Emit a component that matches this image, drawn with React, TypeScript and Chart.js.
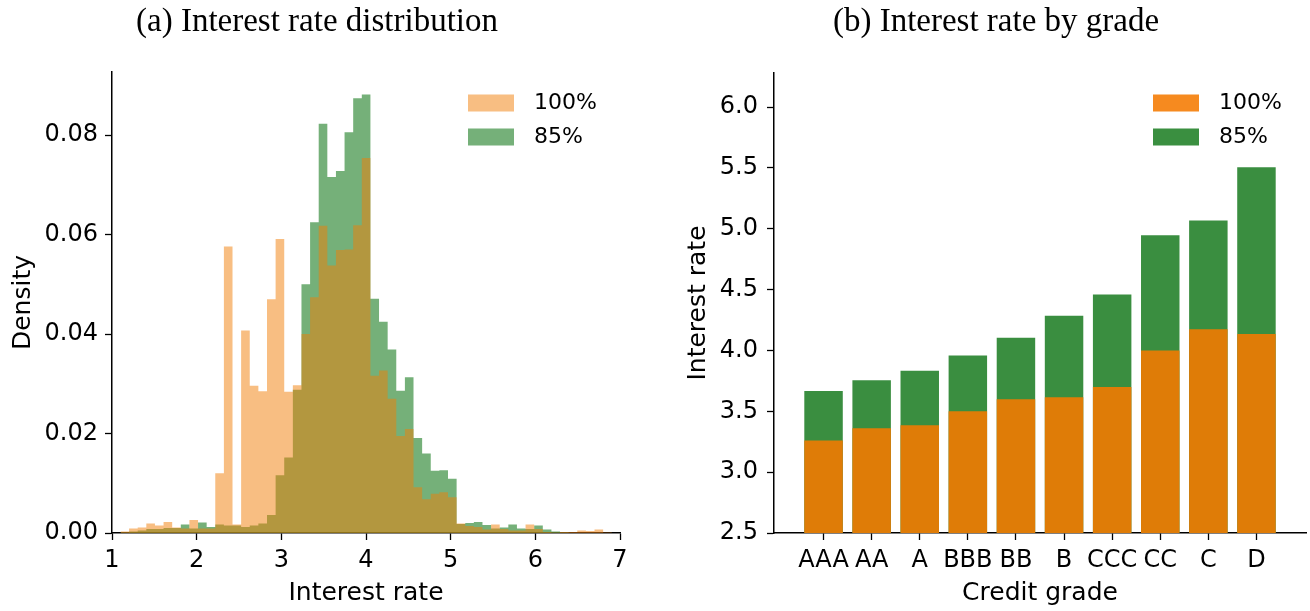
import { useEffect, useRef } from "react";
import { Chart, registerables } from "chart.js";

Chart.register(...registerables);

// ---- (a) histogram: common bins, density per bin ----
const binStart = 1.1;
const binWidth = 0.1018;

const density100 = [
  0.0003, 0.0009, 0.0011, 0.0019, 0.0015, 0.0022, 0.0011, 0.0009, 0.0026, 0.0009,
  0.0009, 0.012, 0.0576, 0.0017, 0.0407, 0.0296, 0.0285, 0.047, 0.0591, 0.0284,
  0.0297, 0.04, 0.0474, 0.0618, 0.0538, 0.0569, 0.057, 0.0619, 0.0754, 0.0316,
  0.0327, 0.027, 0.0195, 0.0209, 0.0092, 0.0068, 0.0079, 0.0082, 0.0072, 0.0019,
  0.0014, 0.0012, 0.0007, 0.0017, 0.0008, 0.0005, 0.0005, 0.0017, 0.0008, 0.0002,
  0.0001, 0.0002, 0.0002, 0.0005, 0.0004, 0.0007, 0.0001, 0.0, 0.0003,
];

const density85 = [
  0.0001, 0.0003, 0.0005, 0.0008, 0.0008, 0.001, 0.001, 0.0017, 0.0009, 0.0021,
  0.0012, 0.0017, 0.0015, 0.0015, 0.0012, 0.0015, 0.0019, 0.0036, 0.0116, 0.0152,
  0.0288, 0.05, 0.0625, 0.0823, 0.0716, 0.0728, 0.0806, 0.0874, 0.0882, 0.0471,
  0.0425, 0.0369, 0.0286, 0.0313, 0.0191, 0.016, 0.0125, 0.0126, 0.0109, 0.0018,
  0.002, 0.0022, 0.0016, 0.0009, 0.0011, 0.0017, 0.0009, 0.0008, 0.0015, 0.0007,
  0.0003, 0.0001, 0.0, 0.0, 0.0, 0.0, 0.0, 0.0, 0.0,
];

const histTicksX = [1, 2, 3, 4, 5, 6, 7];
const histTicksY = [0, 0.02, 0.04, 0.06, 0.08];

// ---- (b) mean interest rate per credit grade ----
const grades = ["AAA", "AA", "A", "BBB", "BB", "B", "CCC", "CC", "C", "D"];
const rate100 = [3.26, 3.36, 3.385, 3.5, 3.6, 3.615, 3.7, 4.0, 4.175, 4.135];
const rate85 = [3.667, 3.755, 3.834, 3.958, 4.105, 4.286, 4.459, 4.946, 5.067, 5.505];
const gradeTicksY = [2.5, 3.0, 3.5, 4.0, 4.5, 5.0, 5.5, 6.0];

const SANS = '"DejaVu Sans", sans-serif';

// Serif panel heading centred over the canvas
const panelTitle = {
  id: "panelTitle",
  afterDraw(chart: any, _args: any, opts: any) {
    const ctx = chart.ctx;
    ctx.save();
    ctx.font = `${opts.size}px "Liberation Serif", serif`;
    ctx.fillStyle = "#000";
    ctx.textAlign = "center";
    ctx.textBaseline = "alphabetic";
    ctx.fillText(opts.text, chart.width / 2, opts.baseline);
    ctx.restore();
  },
};

// Boxed legend in the upper right of the plot area
const boxLegend = {
  id: "boxLegend",
  afterDatasetsDraw(chart: any, _args: any, opts: any) {
    const { ctx, chartArea } = chart;
    ctx.save();
    chart.data.datasets.forEach((ds: any, i: number) => {
      const x = chartArea.right - opts.offsetRight;
      const cy = chartArea.top + opts.firstRow + i * opts.rowGap;
      ctx.fillStyle = ds.legendColor ?? ds.backgroundColor;
      ctx.fillRect(x, cy - 8.5, 46, 17);
      ctx.fillStyle = "#000";
      ctx.font = `22px ${SANS}`;
      ctx.textAlign = "left";
      ctx.textBaseline = "middle";
      ctx.fillText(ds.label, x + 66, cy);
    });
    ctx.restore();
  },
};

const axisGrid = {
  display: true,
  drawOnChartArea: false,
  drawTicks: true,
  tickLength: 7,
  tickColor: "#000",
  tickWidth: 1.3,
  offset: false,
};
const axisBorder = { display: true, color: "#000", width: 1.5 };
const tickFont = { family: SANS, size: 24 };
const labelFont = { family: SANS, size: 25 };

// histogram outline as a stepped, filled series: one point per left bin edge plus the closing edge
function histPoints(arr: number[]) {
  const pts = arr.map((v, i) => ({ x: binStart + i * binWidth, y: v }));
  pts.push({ x: binStart + arr.length * binWidth, y: arr[arr.length - 1] });
  return pts;
}

function histConfig(): any {
  const common = {
    stepped: "before",
    fill: "origin",
    borderWidth: 0,
    borderColor: "rgba(0,0,0,0)",
    pointRadius: 0,
    clip: 0,
  };
  return {
    type: "line",
    data: {
      datasets: [
        { label: "100%", data: histPoints(density100), backgroundColor: "rgba(241,125,5,0.5)", ...common },
        { label: "85%", data: histPoints(density85), backgroundColor: "rgba(58,142,64,0.7)", ...common },
      ],
    },
    options: {
      responsive: false,
      animation: false,
      events: [],
      layout: { padding: { top: 72, right: 14, left: 0, bottom: 0 } },
      plugins: {
        legend: { display: false },
        tooltip: { enabled: false },
        filler: { propagate: false },
        panelTitle: { text: "(a) Interest rate distribution", size: 33, baseline: 31 },
        boxLegend: { offsetRight: 152, firstRow: 31, rowGap: 34 },
      },
      scales: {
        x: {
          type: "linear",
          min: 1,
          max: 7,
          offset: false,
          z: 1,
          afterBuildTicks: (s: any) => {
            s.ticks = histTicksX.map((v) => ({ value: v }));
          },
          afterFit: (s: any) => {
            s.height = 78;
          },
          ticks: { font: tickFont, color: "#000", padding: 6, maxRotation: 0, callback: (v: any) => String(v) },
          grid: axisGrid,
          border: axisBorder,
          title: { display: true, text: "Interest rate", font: labelFont, color: "#000", padding: { top: 0, bottom: 3 } },
        },
        y: {
          type: "linear",
          min: 0,
          max: 0.0927,
          z: 1,
          afterBuildTicks: (s: any) => {
            s.ticks = histTicksY.map((v) => ({ value: v }));
          },
          afterFit: (s: any) => {
            s.width = 112;
          },
          ticks: { font: tickFont, color: "#000", padding: 7, callback: (v: any) => Number(v).toFixed(2) },
          grid: axisGrid,
          border: axisBorder,
          title: { display: true, text: "Density", font: labelFont, color: "#000", padding: { top: 8, bottom: 0 } },
        },
      },
    },
    plugins: [panelTitle, boxLegend],
  };
}

function gradeConfig(): any {
  const toPoints = (arr: number[]) => arr.map((v, i) => ({ x: i, y: v }));
  const common = {
    grouped: false,
    barPercentage: 0.8,
    categoryPercentage: 1,
    borderWidth: 0,
    clip: 0,
  };
  return {
    type: "bar",
    data: {
      datasets: [
        { label: "100%", data: toPoints(rate100), backgroundColor: "#df7c07", legendColor: "#f68a1f", ...common },
        { label: "85%", data: toPoints(rate85), backgroundColor: "#3a8e40", legendColor: "#3a8f40", ...common },
      ],
    },
    options: {
      responsive: false,
      animation: false,
      events: [],
      layout: { padding: { top: 73, right: 4, left: 0, bottom: 0 } },
      plugins: {
        legend: { display: false },
        tooltip: { enabled: false },
        panelTitle: { text: "(b) Interest rate by grade", size: 33, baseline: 31 },
        boxLegend: { offsetRight: 153, firstRow: 30, rowGap: 34 },
      },
      scales: {
        x: {
          type: "linear",
          min: -1.03,
          max: grades.length - 1 + 1.03,
          offset: false,
          z: 1,
          afterBuildTicks: (s: any) => {
            s.ticks = grades.map((_, i) => ({ value: i }));
          },
          afterFit: (s: any) => {
            s.height = 78;
          },
          ticks: {
            font: tickFont,
            color: "#000",
            padding: 6,
            maxRotation: 0,
            autoSkip: false,
            callback: (v: any) => grades[Math.round(Number(v))] ?? "",
          },
          grid: axisGrid,
          border: axisBorder,
          title: { display: true, text: "Credit grade", font: labelFont, color: "#000", padding: { top: 0, bottom: 3 } },
        },
        y: {
          type: "linear",
          min: 2.5,
          max: 6.28,
          z: 1,
          afterBuildTicks: (s: any) => {
            s.ticks = gradeTicksY.map((v) => ({ value: v }));
          },
          afterFit: (s: any) => {
            s.width = 92;
          },
          ticks: { font: tickFont, color: "#000", padding: 9, callback: (v: any) => Number(v).toFixed(1) },
          grid: axisGrid,
          border: axisBorder,
          title: { display: true, text: "Interest rate", font: labelFont, color: "#000", padding: { top: 1, bottom: 0 } },
        },
      },
    },
    plugins: [panelTitle, boxLegend],
  };
}

export default function App() {
  const leftRef = useRef<HTMLCanvasElement | null>(null);
  const rightRef = useRef<HTMLCanvasElement | null>(null);

  useEffect(() => {
    const left = new Chart(leftRef.current as HTMLCanvasElement, histConfig());
    const right = new Chart(rightRef.current as HTMLCanvasElement, gradeConfig());
    return () => {
      left.destroy();
      right.destroy();
    };
  }, []);

  return (
    <div style={{ position: "absolute", left: 0, top: 0, width: 1310, height: 611, background: "#fff" }}>
      <div style={{ position: "absolute", left: 0, top: 0, width: 634, height: 611 }}>
        <canvas ref={leftRef} width={634} height={611} />
      </div>
      <div style={{ position: "absolute", left: 682, top: 0, width: 628, height: 611 }}>
        <canvas ref={rightRef} width={628} height={611} />
      </div>
    </div>
  );
}
